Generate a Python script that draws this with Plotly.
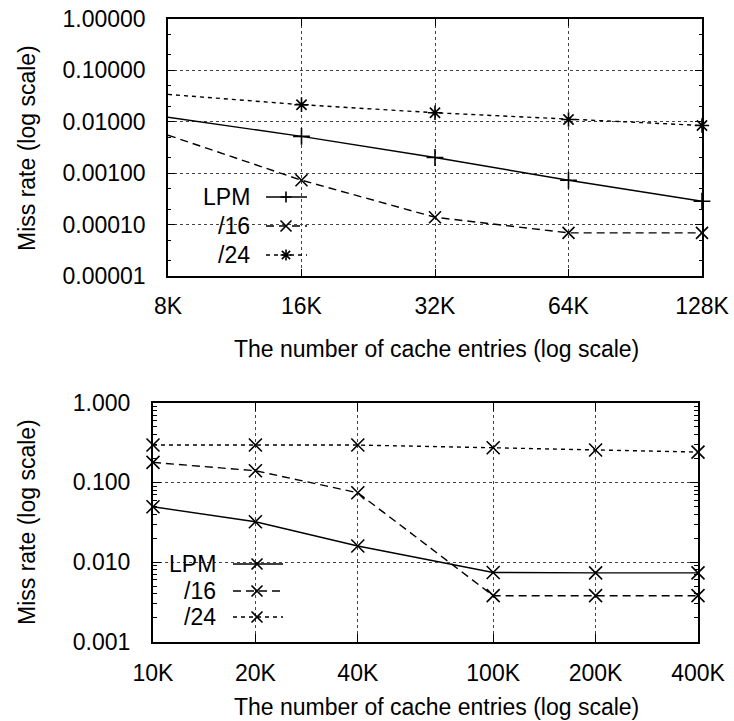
import numpy as np
import plotly.graph_objects as go

W, H = 734, 721

# ---------------- data ----------------
top_x = [8000, 16000, 32000, 64000, 128000]
top_xlabels = ["8K", "16K", "32K", "64K", "128K"]
top_lpm = [0.0123, 0.0052, 0.00202, 0.00073, 0.000285]
top_16 = [0.0055, 0.00073, 0.000139, 0.000069, 0.000069]
top_24 = [0.0341, 0.0215, 0.0150, 0.0111, 0.00848]
top_yticks = [1, 0.1, 0.01, 0.001, 0.0001, 0.00001]
top_ylabels = ["1.00000", "0.10000", "0.01000", "0.00100", "0.00010", "0.00001"]

bot_x = [10000, 20000, 40000, 100000, 200000, 400000]
bot_xlabels = ["10K", "20K", "40K", "100K", "200K", "400K"]
bot_lpm = [0.0494, 0.032, 0.0159, 0.0074, 0.0073, 0.0073]
bot_16 = [0.178, 0.140, 0.074, 0.00378, 0.00378, 0.00378]
bot_24 = [0.294, 0.294, 0.294, 0.272, 0.255, 0.240]
bot_yticks = [1, 0.1, 0.01, 0.001]
bot_ylabels = ["1.000", "0.100", "0.010", "0.001"]

series_names = ["LPM", "/16", "/24"]

FONT = "Liberation Sans, Arial, Helvetica, sans-serif"
FS = 23


def px(x):
    return x / W


def py(y):
    return 1 - y / H


fig = go.Figure()

dash16 = "8px,5px"
dash24 = "4px,4px"

top_styles = [
    (top_lpm, "solid", "cross-thin-open"),
    (top_16, dash16, "x-thin-open"),
    (top_24, dash24, "asterisk-open"),
]
for name, (vals, dash, sym) in zip(series_names, top_styles):
    fig.add_trace(go.Scatter(
        x=top_x, y=vals, mode="lines+markers", name=name, showlegend=False,
        line=dict(color="black", width=1.4, dash=dash),
        marker=dict(symbol=sym, size=12, color="black", line=dict(color="black", width=1.6)),
        xaxis="x", yaxis="y", cliponaxis=False))

bot_styles = [
    (bot_lpm, "solid", "x-thin-open"),
    (bot_16, dash16, "x-thin-open"),
    (bot_24, dash24, "x-thin-open"),
]
for name, (vals, dash, sym) in zip(series_names, bot_styles):
    fig.add_trace(go.Scatter(
        x=bot_x, y=vals, mode="lines+markers", name=name, showlegend=False,
        line=dict(color="black", width=1.4, dash=dash),
        marker=dict(symbol=sym, size=13, color="black", line=dict(color="black", width=1.6)),
        xaxis="x2", yaxis="y2", cliponaxis=False))

axis_common = dict(
    showline=True, linecolor="black", mirror="ticks", ticks="inside",
    tickcolor="black", showgrid=True, gridcolor="#444", griddash="dot",
    gridwidth=1, zeroline=False, automargin=False, ticklabeloverflow="allow",
    tickfont=dict(family=FONT, size=FS, color="black"),
)

top_xr = [np.log10(top_x[0]), np.log10(top_x[-1])]
bot_xr = [np.log10(bot_x[0]), np.log10(bot_x[-1])]

fig.update_layout(
    width=W, height=H,
    margin=dict(l=0, r=0, t=0, b=0),
    paper_bgcolor="white", plot_bgcolor="white",
    font=dict(family=FONT, size=FS, color="black"),
    xaxis=dict(axis_common, type="log", range=top_xr, tickvals=top_x, ticktext=top_xlabels,
               domain=[px(168), px(702)], anchor="y", ticklen=7, linewidth=1.5,
               ticklabelstandoff=9),
    yaxis=dict(axis_common, type="log", range=[-5, 0], tickvals=top_yticks, ticktext=top_ylabels,
               domain=[py(276), py(19)], anchor="x", ticklen=7, linewidth=1.5,
               ticklabelstandoff=16,
               minor=dict(ticks="inside", ticklen=3, tickcolor="black", dtick="D2", showgrid=False)),
    xaxis2=dict(axis_common, type="log", range=bot_xr, tickvals=bot_x, ticktext=bot_xlabels,
                domain=[px(153), px(698)], anchor="y2", ticklen=8, linewidth=2,
                ticklabelstandoff=10),
    yaxis2=dict(axis_common, type="log", range=[-3, 0], tickvals=bot_yticks, ticktext=bot_ylabels,
                domain=[py(641.7), py(402.7)], anchor="x2", ticklen=8, linewidth=2,
                ticklabelstandoff=16,
                minor=dict(ticks="inside", ticklen=4, tickcolor="black", dtick="D1", showgrid=False)),
)

shapes = []
annots = []

# axis titles
for (cx, cy) in [(27, 148), (27, 522)]:
    annots.append(dict(text="Miss rate (log scale)", x=px(cx), y=py(cy), xref="paper", yref="paper",
                       xanchor="center", yanchor="middle",
                       showarrow=False, textangle=-90, font=dict(family=FONT, size=FS)))
for (cx, cy) in [(436, 349), (436, 707)]:
    annots.append(dict(text="The number of cache entries (log scale)", x=px(cx), y=py(cy),
                       xref="paper", yref="paper", xanchor="center", yanchor="middle",
                       showarrow=False, font=dict(family=FONT, size=FS)))

# legend background boxes (hide grid lines under the key)
shapes.append(dict(type="rect", xref="paper", yref="paper", x0=px(178), x1=px(322),
                   y0=py(276), y1=py(182), fillcolor="white", line=dict(width=0), layer="between"))
shapes.append(dict(type="rect", xref="paper", yref="paper", x0=px(155), x1=px(300),
                   y0=py(632), y1=py(548), fillcolor="white", line=dict(width=0), layer="between"))


def marker_path(kind, cx, cy, r):
    if kind == "plus":
        return f"M{px(cx - r)},{py(cy)} L{px(cx + r)},{py(cy)} M{px(cx)},{py(cy - r)} L{px(cx)},{py(cy + r)}"
    if kind == "x":
        return (f"M{px(cx - r)},{py(cy - r)} L{px(cx + r)},{py(cy + r)} "
                f"M{px(cx - r)},{py(cy + r)} L{px(cx + r)},{py(cy - r)}")
    return (marker_path("plus", cx, cy, r) + " " + marker_path("x", cx, cy, r * 0.75))


def add_key(rows, text_right, x0, x1, mx, r):
    for (label, cy, dash, kind) in rows:
        annots.append(dict(text=label, x=px(text_right), y=py(cy), xref="paper", yref="paper",
                           xanchor="right", yanchor="middle", showarrow=False,
                           font=dict(family=FONT, size=FS)))
        shapes.append(dict(type="line", xref="paper", yref="paper", x0=px(x0), x1=px(x1),
                           y0=py(cy), y1=py(cy), line=dict(color="black", width=1.4, dash=dash)))
        shapes.append(dict(type="path", xref="paper", yref="paper", path=marker_path(kind, mx, cy, r),
                           line=dict(color="black", width=1.6)))


add_key([("LPM", 197, "solid", "plus"), ("/16", 226, dash16, "x"), ("/24", 255, dash24, "ast")],
        252, 266, 307, 286, 5.5)
add_key([("LPM", 564, "solid", "x"), ("/16", 591, dash16, "x"), ("/24", 617, dash24, "x")],
        218, 233, 283, 257, 5.5)

fig.update_layout(shapes=shapes, annotations=annots)

fig.write_html("out.html",
               config={"displayModeBar": False},
               post_script="document.body.style.margin='0';document.body.style.overflow='hidden';")
